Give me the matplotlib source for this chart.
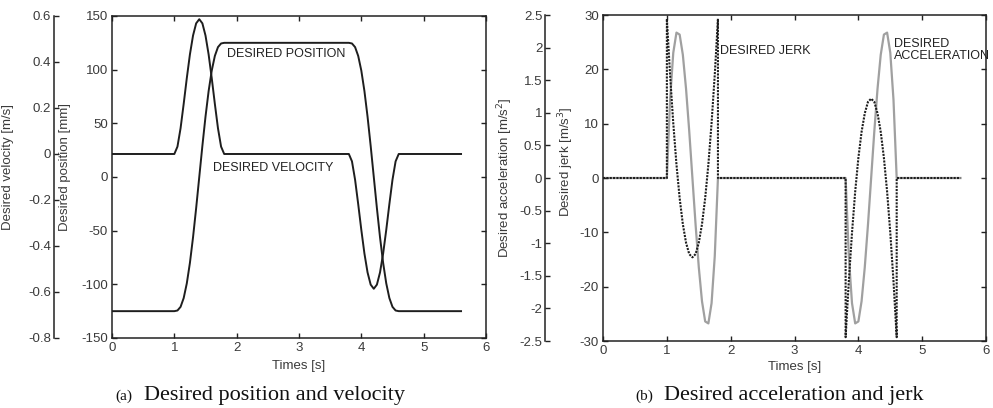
import matplotlib
matplotlib.use("Agg")
import matplotlib.pyplot as plt
from matplotlib.ticker import FuncFormatter

plt.rcParams['font.family'] = ['Liberation Sans', 'DejaVu Sans']
plt.rcParams['axes.unicode_minus'] = False

# ---------------- data ----------------
t_move1 = [1.00, 1.05, 1.10, 1.15, 1.20, 1.25, 1.30, 1.35, 1.40,
           1.45, 1.50, 1.55, 1.60, 1.65, 1.70, 1.75, 1.80]
t_move2 = [3.80, 3.85, 3.90, 3.95, 4.00, 4.05, 4.10, 4.15, 4.20,
           4.25, 4.30, 4.35, 4.40, 4.45, 4.50, 4.55, 4.60]
t_start = 0.0
t_end = 5.6

pos_rise = [-125.0, -124.4, -121.0, -112.8, -99.1, -80.0, -56.2, -29.0, 0.0,
            29.0, 56.2, 80.0, 99.1, 112.8, 121.0, 124.4, 125.0]
pos_fall = [125.0, 124.4, 121.0, 112.8, 99.1, 80.0, 56.2, 29.0, 0.0,
            -29.0, -56.2, -80.0, -99.1, -112.8, -121.0, -124.4, -125.0]

vel_rise = [0.0, 0.032, 0.112, 0.218, 0.330, 0.433, 0.515, 0.568, 0.586,
            0.568, 0.515, 0.433, 0.330, 0.218, 0.112, 0.032, 0.0]
vel_fall = [0.0, -0.032, -0.112, -0.218, -0.330, -0.433, -0.515, -0.568, -0.586,
            -0.568, -0.515, -0.433, -0.330, -0.218, -0.112, -0.032, 0.0]

acc_move1 = [0.0, 1.20, 1.92, 2.23, 2.20, 1.89, 1.37, 0.72, 0.0,
             -0.72, -1.37, -1.89, -2.20, -2.23, -1.92, -1.20, 0.0]
acc_move2 = [0.0, -1.20, -1.92, -2.23, -2.20, -1.89, -1.37, -0.72, 0.0,
             0.72, 1.37, 1.89, 2.20, 2.23, 1.92, 1.20, 0.0]

jerk_move1 = [29.3, 19.0, 10.1, 2.5, -3.7, -8.5, -11.9, -14.0, -14.6,
              -14.0, -11.9, -8.5, -3.7, 2.5, 10.1, 19.0, 29.3]
jerk_move2 = [-29.3, -19.0, -10.1, -2.5, 3.7, 8.5, 11.9, 14.0, 14.6,
              14.0, 11.9, 8.5, 3.7, -2.5, -10.1, -19.0, -29.3]

x_ticks = [0, 1, 2, 3, 4, 5, 6]
pos_ticks = [-150, -100, -50, 0, 50, 100, 150]
vel_ticks = [-0.8, -0.6, -0.4, -0.2, 0.0, 0.2, 0.4, 0.6]
acc_ticks = [-2.5, -2.0, -1.5, -1.0, -0.5, 0.0, 0.5, 1.0, 1.5, 2.0, 2.5]
jerk_ticks = [-30, -20, -10, 0, 10, 20, 30]

# assembled series
t_pv = [t_start] + t_move1 + t_move2 + [t_end]
pos = [pos_rise[0]] + pos_rise + pos_fall + [pos_fall[-1]]
vel = [0.0] + vel_rise + vel_fall + [0.0]
acc = [0.0] + acc_move1 + acc_move2 + [0.0]
t_j = [t_start, t_move1[0]] + t_move1 + [t_move1[-1], t_move2[0]] + t_move2 + [t_move2[-1], t_end]
jerk = [0.0, 0.0] + jerk_move1 + [0.0, 0.0] + jerk_move2 + [0.0, 0.0]

# ---------------- styling ----------------
TXT = '#3a3a3a'
LINE = '#1e1e1e'
SP = '#222222'
TICK_FS = 9.5
LAB_FS = 9.5
ANN_FS = 9
fmt = FuncFormatter(lambda v, p: ('%g' % round(v, 3)))

fig = plt.figure(figsize=(9.93, 4.08), dpi=100)
fig.patch.set_facecolor('white')


def style_main(ax):
    for s in ax.spines.values():
        s.set_color(SP)
        s.set_linewidth(1.1)
    ax.tick_params(direction='in', top=True, right=True, length=3.5, width=1.0,
                   colors=SP, labelcolor=TXT, labelsize=TICK_FS, pad=3)
    ax.set_xlim(0, 6)
    ax.set_xticks(x_ticks)
    ax.xaxis.set_major_formatter(fmt)


def style_outer(ax, offset):
    ax.patch.set_visible(False)
    for k in ['right', 'top', 'bottom']:
        ax.spines[k].set_visible(False)
    ax.spines['left'].set_position(('axes', offset))
    ax.spines['left'].set_color(SP)
    ax.spines['left'].set_linewidth(1.1)
    ax.tick_params(axis='y', direction='in', length=3.5, width=1.0, colors=SP,
                   labelcolor=TXT, labelsize=TICK_FS, pad=2)
    ax.tick_params(axis='x', bottom=False, labelbottom=False)
    ax.yaxis.set_major_formatter(fmt)


# ---- panel (a) ----
rect_a = [0.1128, 0.1716, 0.3766, 0.7892]
ax_p = fig.add_axes(rect_a)
style_main(ax_p)
ax_p.set_ylim(-150, 150)
ax_p.set_yticks(pos_ticks)
ax_p.yaxis.set_major_formatter(fmt)
ax_p.plot(t_pv, pos, color=LINE, lw=1.4)
ax_p.set_xlabel('Times [s]', fontsize=LAB_FS, color=TXT, labelpad=4)
ax_p.set_ylabel('Desired position [mm]', fontsize=LAB_FS, color=TXT)
ax_p.yaxis.set_label_coords(-0.110, 0.53)
ax_p.text(1.85, 115, 'DESIRED POSITION', fontsize=ANN_FS, color='#222', va='center', ha='left')
ax_p.text(1.62, 8, 'DESIRED VELOCITY', fontsize=ANN_FS, color='#222', va='center', ha='left')

ax_v = fig.add_axes(rect_a, sharex=ax_p)
style_outer(ax_v, -0.155)
ax_v.set_ylim(-0.8, 0.6)
ax_v.set_yticks(vel_ticks)
ax_v.plot(t_pv, vel, color=LINE, lw=1.4)
ax_v.set_ylabel('Desired velocity [m/s]', fontsize=LAB_FS, color=TXT)
ax_v.yaxis.set_label_coords(-0.262, 0.53)

# ---- panel (b) ----
rect_b = [0.6073, 0.1642, 0.3857, 0.7990]
ax_j = fig.add_axes(rect_b)
style_main(ax_j)
ax_j.set_ylim(-30, 30)
ax_j.set_yticks(jerk_ticks)
ax_j.yaxis.set_major_formatter(fmt)
ax_j.patch.set_visible(False)
ax_j.plot(t_j, jerk, color=LINE, lw=1.5, linestyle=(0, (1, 0.6)))
ax_j.set_xlabel('Times [s]', fontsize=LAB_FS, color=TXT, labelpad=3)
ax_j.set_ylabel('Desired jerk [m/s$^3$]', fontsize=LAB_FS, color=TXT)
ax_j.yaxis.set_label_coords(-0.070, 0.55)
ax_j.text(1.83, 23.3, 'DESIRED JERK', fontsize=ANN_FS, color='#222', va='center', ha='left')
ax_j.text(4.56, 23.5, 'DESIRED\nACCELERATION', fontsize=ANN_FS, color='#222', va='center',
          ha='left', linespacing=1.0, clip_on=False)

ax_a = fig.add_axes(rect_b, sharex=ax_j)
style_outer(ax_a, -0.1514)
ax_a.set_zorder(ax_j.get_zorder() - 1)
ax_a.set_ylim(-2.5, 2.5)
ax_a.set_yticks(acc_ticks)
ax_a.plot(t_pv, acc, color='#a0a0a0', lw=1.6)
ax_a.set_ylabel('Desired acceleration [m/s$^2$]', fontsize=LAB_FS, color=TXT)
ax_a.yaxis.set_label_coords(-0.230, 0.5)

# ---- captions ----
SERIF = ['Liberation Serif', 'DejaVu Serif']
base_y = 1 - 400 / 408
fig.text(115 / 993, base_y, '(a)', fontsize=11, family=SERIF, ha='left', va='baseline', color='#111')
fig.text(144 / 993, base_y, 'Desired position and velocity', fontsize=16, family=SERIF,
         ha='left', va='baseline', color='#111')
fig.text(635 / 993, base_y, '(b)', fontsize=11, family=SERIF, ha='left', va='baseline', color='#111')
fig.text(664 / 993, base_y, 'Desired acceleration and jerk', fontsize=16, family=SERIF,
         ha='left', va='baseline', color='#111')

fig.savefig('out.png', dpi=100, facecolor='white')
